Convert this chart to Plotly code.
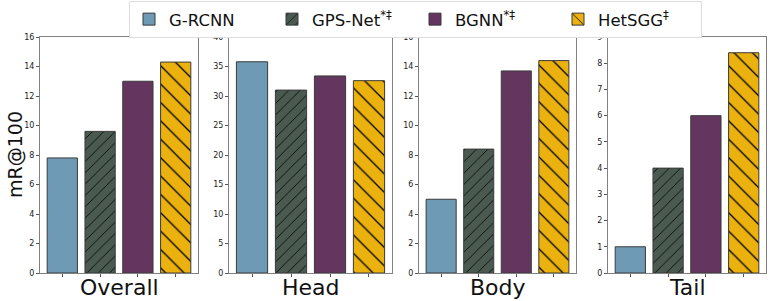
import plotly.graph_objects as go

categories = ["Overall", "Head", "Body", "Tail"]
series_names = ["G-RCNN", "GPS-Net<sup>*‡</sup>", "BGNN<sup>*‡</sup>", "HetSGG<sup>‡</sup>"]
g_rcnn = [7.8, 35.8, 5.0, 1.0]
gps_net = [9.6, 31.0, 8.4, 4.0]
bgnn = [13.0, 33.4, 13.7, 6.0]
hetsgg = [14.3, 32.6, 14.4, 8.4]
y_max = [16, 40, 16, 9]
y_dtick = [2, 5, 2, 1]

series_values = [g_rcnn, gps_net, bgnn, hetsgg]
colors = ["#6f9ab5", "#4a5a50", "#64365f", "#eab10f"]
patterns = ["", "/", "", "\\"]
pattern_sizes = [8, 8, 8, 13]

domains = [(40, 198), (229, 392), (419, 576), (608, 766)]
W, H = 773, 301
y_dom = [1 - 273 / H, 1 - 37 / H]

fig = go.Figure()
for p, cat in enumerate(categories):
    ax = "" if p == 0 else str(p + 1)
    for s, (name, vals) in enumerate(zip(series_names, series_values)):
        fig.add_trace(go.Bar(
            x=[s], y=[vals[p]], name=name, width=0.8,
            legendgroup=name, showlegend=(p == 0),
            marker=dict(color=colors[s], line=dict(color="#3a3a3a", width=1),
                        pattern=dict(shape=patterns[s], fgcolor="#000000",
                                     bgcolor=colors[s], size=pattern_sizes[s],
                                     solidity=0.1, fillmode="replace")),
            xaxis="x" + ax, yaxis="y" + ax,
        ))
    x0, x1 = domains[p]
    fig.update_layout(**{
        "xaxis" + ax: dict(domain=[x0 / W, x1 / W], anchor="y" + ax,
                           range=[-0.59, 3.59], tickvals=[0, 1, 2, 3],
                           ticktext=["", "", "", ""], ticks="outside", ticklen=3,
                           tickcolor="#555", showline=True, linecolor="#808080",
                           mirror=True, showgrid=False, zeroline=False,
                           automargin=False),
        "yaxis" + ax: dict(domain=y_dom, anchor="x" + ax, range=[0, y_max[p]],
                           dtick=y_dtick[p], ticks="outside", ticklen=3,
                           tickcolor="#555", showline=True, linecolor="#808080",
                           mirror=True, showgrid=False, zeroline=False,
                           tickfont=dict(size=8, color="#222"), automargin=False),
    })
    fig.add_annotation(text=cat, xref="paper", yref="paper",
                       x=(x0 + x1) / 2 / W, y=1 - 287 / H, xanchor="center",
                       yanchor="middle", showarrow=False,
                       font=dict(size=22, color="#111"))

fig.add_annotation(text="mR@100", xref="paper", yref="paper", x=15 / W,
                   y=1 - 155 / H, textangle=-90, xanchor="center", yanchor="middle",
                   showarrow=False, font=dict(size=19, color="#111"))

fig.update_layout(
    width=W, height=H, margin=dict(l=0, r=0, t=0, b=0),
    paper_bgcolor="white", plot_bgcolor="white",
    font=dict(family="DejaVu Sans", color="#111"),
    barmode="overlay",
    legend=dict(orientation="h", x=129 / W, xanchor="left", y=0.997, yanchor="top",
                font=dict(size=16.5), bordercolor="#dddddd", borderwidth=1,
                bgcolor="white", entrywidth=98, itemwidth=30),
)
fig.write_html("out.html", config={"displayModeBar": False},
               post_script="document.body.style.margin='0';document.body.style.overflow='hidden';")
